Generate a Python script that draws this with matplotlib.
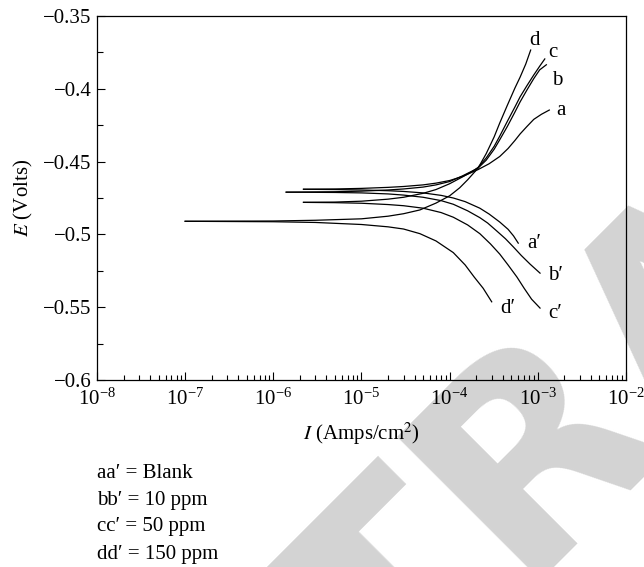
import numpy as np
import matplotlib.pyplot as plt
from matplotlib.ticker import LogLocator, MultipleLocator, FuncFormatter, NullFormatter

plt.rcParams['font.family'] = ['Liberation Serif', 'DejaVu Serif']
plt.rcParams['mathtext.fontset'] = 'stix'
plt.rcParams['font.size'] = 15

# Tafel branches, current density (A/cm^2) vs potential (V)
# anodic
a_I = [2.2e-6, 5e-6, 1e-5, 2e-5, 3e-5, 5e-5, 7e-5, 1e-4, 1.4e-4, 2.1e-4, 2.8e-4,
       3.7e-4, 4.6e-4, 5.5e-4, 6.3e-4, 7.5e-4, 9e-4, 1.1e-3, 1.35e-3]
a_E = [-0.469, -0.4688, -0.4684, -0.4677, -0.4671, -0.466, -0.4648, -0.463, -0.4602, -0.4555, -0.4515,
       -0.4465, -0.441, -0.4355, -0.431, -0.426, -0.421, -0.4175, -0.4146]
b_I = [1.4e-6, 5e-6, 1e-5, 2e-5, 3e-5, 5e-5, 7e-5, 1e-4, 1.4e-4, 1.8e-4, 2.1e-4,
       2.6e-4, 3.2e-4, 3.7e-4, 4.5e-4, 5.5e-4, 6.3e-4, 7.5e-4, 9e-4, 1.05e-3, 1.25e-3]
b_E = [-0.471, -0.4707, -0.4703, -0.4695, -0.4688, -0.4675, -0.466, -0.4637, -0.4598, -0.4565, -0.4545,
       -0.449, -0.4415, -0.435, -0.426, -0.416, -0.409, -0.401, -0.393, -0.387, -0.3835]
c_I = [2.2e-6, 5e-6, 1e-5, 2e-5, 3e-5, 5e-5, 7e-5, 1e-4, 1.4e-4, 1.8e-4, 2.1e-4,
       2.6e-4, 3.2e-4, 3.7e-4, 4.5e-4, 5.5e-4, 6.3e-4, 7.5e-4, 9e-4, 1.05e-3, 1.2e-3]
c_E = [-0.478, -0.4778, -0.4772, -0.4758, -0.4745, -0.4718, -0.4692, -0.4652, -0.4605, -0.4568, -0.454,
       -0.4475, -0.4395, -0.4325, -0.4225, -0.4125, -0.4055, -0.398, -0.3905, -0.3845, -0.3795]
d_I = [1e-7, 1e-6, 3e-6, 1e-5, 2e-5, 3e-5, 4.6e-5, 7e-5, 1e-4, 1.3e-4, 1.6e-4,
       2.1e-4, 2.6e-4, 3.2e-4, 3.7e-4, 4.5e-4, 5.5e-4, 6.3e-4, 7.3e-4, 8.3e-4]
d_E = [-0.491, -0.4908, -0.4903, -0.4893, -0.4875, -0.4858, -0.4832, -0.4785, -0.4735, -0.468, -0.4625,
       -0.4545, -0.4445, -0.433, -0.4235, -0.4115, -0.3995, -0.392, -0.383, -0.3734]

# cathodic
a2_I = [2.2e-6, 5e-6, 1e-5, 2e-5, 3e-5, 5e-5, 8e-5, 1.1e-4, 1.5e-4, 2.2e-4, 2.8e-4,
        3.7e-4, 4.6e-4, 5.3e-4, 6.0e-4]
a2_E = [-0.469, -0.4692, -0.4695, -0.470, -0.4705, -0.4715, -0.4732, -0.475, -0.4775, -0.482, -0.486,
        -0.4915, -0.4965, -0.501, -0.506]
b2_I = [1.4e-6, 5e-6, 1e-5, 2e-5, 3e-5, 5e-5, 8e-5, 1.1e-4, 1.6e-4, 2.2e-4, 2.7e-4,
        3.4e-4, 4.3e-4, 5.3e-4, 6.5e-4, 8.2e-4, 1.06e-3]
b2_E = [-0.471, -0.4712, -0.4715, -0.4722, -0.473, -0.4745, -0.4768, -0.4793, -0.4838, -0.4885, -0.4922,
        -0.4975, -0.503, -0.5087, -0.5145, -0.5205, -0.5266]
c2_I = [2.2e-6, 5e-6, 1e-5, 2e-5, 3e-5, 5e-5, 8e-5, 1.1e-4, 1.6e-4, 2.2e-4, 2.9e-4,
        3.7e-4, 4.6e-4, 5.8e-4, 7e-4, 8.5e-4, 1.06e-3]
c2_E = [-0.478, -0.4782, -0.4786, -0.4795, -0.4803, -0.482, -0.485, -0.4882, -0.4935, -0.4995, -0.5065,
        -0.5135, -0.521, -0.5293, -0.537, -0.5445, -0.5506]
d2_I = [1e-7, 1e-6, 3e-6, 1e-5, 2e-5, 3e-5, 4.6e-5, 7e-5, 1.1e-4, 1.5e-4, 1.9e-4, 2.4e-4, 3.0e-4]
d2_E = [-0.491, -0.4913, -0.4918, -0.4932, -0.4948, -0.4963, -0.4995, -0.5045, -0.5125, -0.521,
        -0.5293, -0.537, -0.5463]

branches = [(a_I, a_E), (b_I, b_E), (c_I, c_E), (d_I, d_E),
            (a2_I, a2_E), (b2_I, b2_E), (c2_I, c2_E), (d2_I, d2_E)]

# curve tags and where they sit
tag_names = ['d', 'c', 'b', 'a', "a\u2032", "b\u2032", "c\u2032", "d\u2032"]
tag_I = [8.0e-4, 1.32e-3, 1.46e-3, 1.6e-3, 7.6e-4, 1.3e-3, 1.3e-3, 3.76e-4]
tag_E = [-0.3665, -0.3754, -0.394, -0.4146, -0.5064, -0.528, -0.554, -0.5506]

legend_lines = ["aa\u2032 = Blank", "bb\u2032 = 10 ppm", "cc\u2032 = 50 ppm", "dd\u2032 = 150 ppm"]

fig = plt.figure(figsize=(6.44, 5.67), dpi=100)
fig.text(1.073, 0.478, 'RETRACTED', family='DejaVu Sans', fontweight='bold',
         fontsize=200, color='#d3d3d3', rotation=45, rotation_mode='anchor',
         ha='center', va='center', zorder=-1)

ax = fig.add_axes([0.1506, 0.3298, 0.8214, 0.642])
ax.patch.set_alpha(0)

for I, E in branches:
    ax.plot(I, E, color='black', lw=0.9)

for name, x, y in zip(tag_names, tag_I, tag_E):
    ax.text(x, y, name, ha='left', va='center', fontsize=15)

ax.set_xscale('log')
ax.set_xlim(1e-8, 1e-2)
ax.set_ylim(-0.6, -0.35)
ax.xaxis.set_major_locator(LogLocator(base=10, numticks=10))
ax.xaxis.set_minor_locator(LogLocator(base=10, subs=np.arange(2, 10), numticks=20))
ax.xaxis.set_minor_formatter(NullFormatter())
ax.yaxis.set_major_locator(MultipleLocator(0.05))
ax.yaxis.set_minor_locator(MultipleLocator(0.025))
ax.yaxis.set_major_formatter(FuncFormatter(lambda v, p: ('%g' % round(v, 3)).replace('-', '\u2212')))

ax.tick_params(which='both', direction='in', top=False, right=False, labelsize=15)
ax.tick_params(axis='x', which='major', length=6, width=0.8, pad=6)
ax.tick_params(axis='x', which='minor', length=3.5, width=0.8)
ax.tick_params(axis='y', which='major', length=6, width=0.8, pad=4)
ax.tick_params(axis='y', which='minor', length=4, width=0.8)
for s in ax.spines.values():
    s.set_linewidth(0.9)

ax.set_xlabel('$I$ (Amps/cm$^2$)', fontsize=15, labelpad=8)
ax.set_ylabel('$E$ (Volts)', fontsize=15, labelpad=6)

for i, line in enumerate(legend_lines):
    fig.text(97 / 644, 1 - (473 + 27 * i) / 567, line, ha='left', va='center', fontsize=15)

fig.savefig('out.png', dpi=100)
